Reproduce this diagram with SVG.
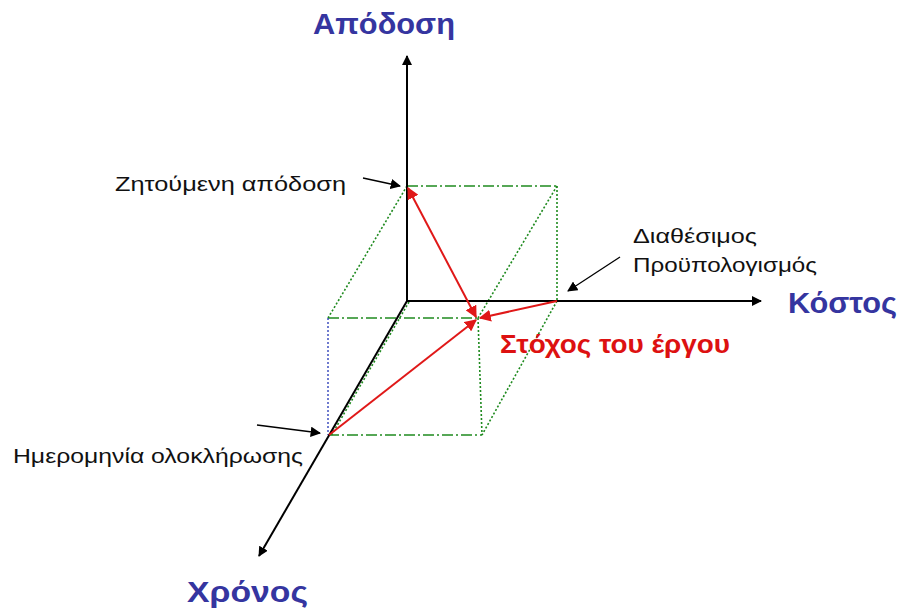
<svg xmlns="http://www.w3.org/2000/svg" width="898" height="609" viewBox="0 0 898 609">
<style>
.axis{stroke:#000;stroke-width:2;fill:none}
.ptr{stroke:#000;stroke-width:1.3;fill:none}
.dd{stroke:#1f8a1f;stroke-width:1.6;fill:none;stroke-dasharray:11,3,2,3}
.dot{stroke:#1f8a1f;stroke-width:1.6;fill:none;stroke-dasharray:2,2}
.dotb{stroke:#3344bb;stroke-width:1.4;fill:none;stroke-dasharray:2,2}
.red{stroke:#e01818;stroke-width:2;fill:none}
.ax{font-family:"Liberation Sans",Arial,sans-serif;font-weight:bold;font-size:29px;fill:#3535a0}
.lbl{font-family:"Liberation Sans",Arial,sans-serif;font-size:21px;fill:#111}
.goal{font-family:"Liberation Sans",Arial,sans-serif;font-weight:bold;font-size:26px;fill:#dd1111}
</style>
<defs>
<marker id="ah" viewBox="0 0 10 10" refX="9" refY="5" markerWidth="5" markerHeight="5" orient="auto-start-reverse" markerUnits="strokeWidth"><path d="M0,0 L10,5 L0,10 z" fill="#000"/></marker>
<marker id="ahp" viewBox="0 0 10 10" refX="9" refY="5" markerWidth="8" markerHeight="8" orient="auto" markerUnits="strokeWidth"><path d="M0,0 L10,5 L0,10 z" fill="#000"/></marker>
<marker id="ahr" viewBox="0 0 10 10" refX="9" refY="5" markerWidth="6" markerHeight="6" orient="auto-start-reverse" markerUnits="strokeWidth"><path d="M0,0 L10,5 L0,10 z" fill="#e01818"/></marker>
</defs>
<g id="connectors">
<line class="dd" x1="407" y1="186" x2="557" y2="186"/>
<line class="dot" x1="557" y1="186" x2="557" y2="301"/>
<line class="dot" x1="407" y1="186" x2="328" y2="318"/>
<line class="dot" x1="557" y1="186" x2="478" y2="318"/>
<line class="dot" x1="557" y1="301" x2="482" y2="435"/>
<line class="dd" x1="328" y1="318" x2="478" y2="318"/>
<line class="dd" x1="328" y1="435" x2="482" y2="435"/>
<line class="dotb" x1="328" y1="318" x2="328" y2="435"/>
<line class="dot" x1="478" y1="318" x2="482" y2="435"/>
<line class="dot" x1="409" y1="302" x2="331" y2="436"/>
<line class="axis" x1="407" y1="301" x2="407" y2="56" marker-end="url(#ah)"/>
<line class="axis" x1="407" y1="301" x2="761" y2="301" marker-end="url(#ah)"/>
<line class="axis" x1="407" y1="301" x2="259" y2="556" marker-end="url(#ah)"/>
<line class="red" x1="408" y1="188" x2="476" y2="317" marker-start="url(#ahr)" marker-end="url(#ahr)"/>
<line class="red" x1="557" y1="301" x2="480" y2="318" marker-end="url(#ahr)"/>
<line class="red" x1="329" y1="435" x2="476" y2="320" marker-end="url(#ahr)"/>
<line class="ptr" x1="363" y1="178" x2="400" y2="186" marker-end="url(#ahp)"/>
<line class="ptr" x1="620" y1="257" x2="568" y2="291" marker-end="url(#ahp)"/>
<line class="ptr" x1="257" y1="425" x2="320" y2="433" marker-end="url(#ahp)"/>
</g>
<g id="label-apodosi"><text class="ax" x="313" y="34" textLength="142" lengthAdjust="spacingAndGlyphs">Απόδοση</text></g>
<g id="label-kostos"><text class="ax" x="788" y="313" textLength="109" lengthAdjust="spacingAndGlyphs">Κόστος</text></g>
<g id="label-xronos"><text class="ax" x="187" y="602" textLength="121" lengthAdjust="spacingAndGlyphs">Χρόνος</text></g>
<g id="label-goal"><text class="goal" x="500" y="353" textLength="230" lengthAdjust="spacingAndGlyphs">Στόχος του έργου</text></g>
<g id="label-zitoumeni"><text class="lbl" x="115" y="191" textLength="231" lengthAdjust="spacingAndGlyphs">Ζητούμενη απόδοση</text></g>
<g id="label-budget"><text class="lbl" x="633" y="243" textLength="124" lengthAdjust="spacingAndGlyphs">Διαθέσιμος</text><text class="lbl" x="633" y="272" textLength="184" lengthAdjust="spacingAndGlyphs">Προϋπολογισμός</text></g>
<g id="label-date"><text class="lbl" x="13" y="463" textLength="290" lengthAdjust="spacingAndGlyphs">Ημερομηνία ολοκλήρωσης</text></g>
</svg>
